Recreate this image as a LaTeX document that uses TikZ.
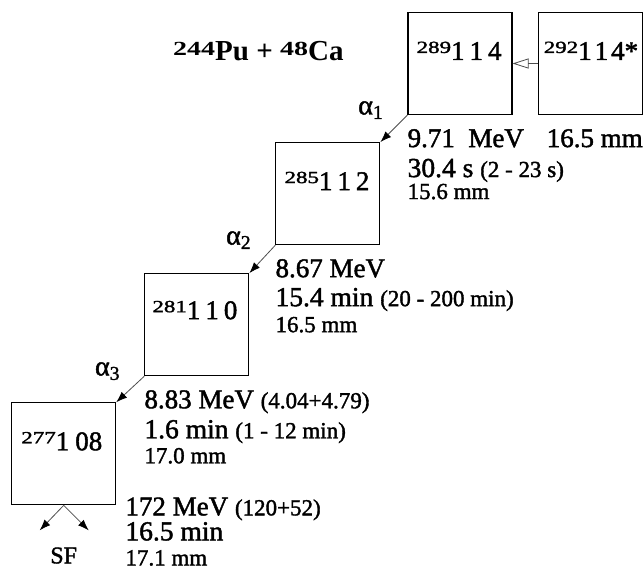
\documentclass[tikz,border=0pt]{standalone}
\usepackage{graphicx}
\usepackage{fontspec}
\setmainfont{Liberation Serif}
\newfontfamily\heavyfont{Liberation Serif}[FakeBold=1.6]
\usetikzlibrary{positioning,arrows.meta}
% mass number raised in front of the element number
\newcommand{\iso}[2]{{\fontsize{17}{17}\selectfont\raisebox{7pt}{\scalebox{1.35}[1]{#1}}}#2}
\newcommand{\titleiso}[1]{{\fontsize{20}{20}\selectfont\raisebox{5pt}{\scalebox{1.4}[1]{#1}}}}
\newcommand{\bracketfont}{\heavyfont\fontsize{23}{23}\selectfont}

\begin{document}
\begin{tikzpicture}[
  nucleus/.style = {draw, line width=1.1pt, minimum width=104pt,
    minimum height=102pt, inner sep=0pt},
  nuclide/.style = {anchor=base west, inner sep=0pt,
    font=\heavyfont\fontsize{27}{27}\selectfont},
  energy/.style = {anchor=base west, inner sep=0pt,
    font=\heavyfont\fontsize{27}{27}\selectfont},
  halflife/.style = {anchor=base west, inner sep=0pt,
    font=\heavyfont\fontsize{27.5}{27.5}\selectfont},
  track/.style = {anchor=base west, inner sep=0pt,
    font=\heavyfont\fontsize{23}{23}\selectfont},
  alphalabel/.style = {anchor=south east, inner sep=0pt,
    font=\heavyfont\fontsize{28}{28}\selectfont},
  decay/.style = {draw=gray!60!black, line width=0.8pt,
    -{Latex[length=11pt,width=8pt,color=black]}},
  feed/.style = {draw=gray!60!black, line width=0.8pt,
    -{Triangle[open,length=16pt,width=10pt]}}]

  \useasboundingbox (0pt,0pt) rectangle (644pt,-573pt);

  % decay chain boxes
  \node[nucleus] (b289) at (460pt,-63.5pt) {};
  \node[nucleus, right=25pt of b289] (b292) {};
  \node[nucleus, below left=27pt and 27pt of b289] (b285) {};
  \node[nucleus, below left=28pt and 26pt of b285] (b281) {};
  \node[nucleus, below left=26pt and 28pt of b281] (b277) {};

  \node[nuclide] (l289) at ([xshift=9pt,yshift=-48pt]b289.north west) {\iso{289}{1\kern5pt1\kern5pt4}};
  \node[nuclide] (l292) at ([xshift=6pt,yshift=-48pt]b292.north west) {\iso{292}{1\kern3pt1\kern3pt4*}};
  \node[nuclide] (l285) at ([xshift=9pt,yshift=-48pt]b285.north west) {\iso{285}{1\kern5pt1\kern5pt2}};
  \node[nuclide] (l281) at ([xshift=8pt,yshift=-46pt]b281.north west) {\iso{281}{1\kern5pt1\kern5pt0}};
  \node[nuclide] (l277) at ([xshift=10pt,yshift=-48pt]b277.north west) {\iso{277}{1\kern6pt08}};

  \node[anchor=base west, inner sep=0pt] (reaction) at (173pt,-60pt)
    {\bfseries\fontsize{29}{29}\selectfont\titleiso{244}Pu + \titleiso{48}Ca};

  % transitions
  \draw[feed] (b292.west) -- (b289.east);
  \draw[decay] (b289.south west) -- (b285.north east);
  \draw[decay] (b285.south west) -- (b281.north east);
  \draw[decay] (b281.south west) -- (b277.north east);
  \coordinate (sf1) at ([xshift=-24pt,yshift=-25pt]b277.south);
  \coordinate (sf2) at ([xshift=25pt,yshift=-25pt]b277.south);
  \draw[decay] (b277.south) -- (sf1);
  \draw[decay] (b277.south) -- (sf2);
  \node[anchor=base, inner sep=0pt, font=\heavyfont\fontsize{24}{24}\selectfont] (sf) at ([yshift=-58pt]b277.south) {SF};

  \node[alphalabel] (a1) at ([xshift=-24pt,yshift=-4pt]b289.south west) {α\textsubscript{1}};
  \node[alphalabel] (a2) at ([xshift=-24pt,yshift=-4pt]b285.south west) {α\textsubscript{2}};
  \node[alphalabel] (a3) at ([xshift=-24pt,yshift=-4pt]b281.south west) {α\textsubscript{3}};

  % measured values
  \node[energy] (r0) at ([xshift=9pt,yshift=-32pt]b292.south west) {16.5 mm};

  \node[energy] (e1) at ([yshift=-32pt]b289.south west) {9.71\ \ MeV};
  \node[halflife] (t1) at ([yshift=-30pt]e1.base west) {30.4 s {\bracketfont(2 - 23 s)}};
  \node[track] (r1) at ([yshift=-22pt]t1.base west) {15.6 mm};

  \node[energy] (e2) at ([yshift=-32pt]b285.south west) {8.67 MeV};
  \node[halflife] (t2) at ([yshift=-29pt]e2.base west) {15.4 min {\bracketfont(20 - 200 min)}};
  \node[track] (r2) at ([yshift=-26pt]t2.base west) {16.5 mm};

  \node[energy] (e3) at ([yshift=-32pt]b281.south west) {8.83 MeV {\bracketfont(4.04+4.79)}};
  \node[halflife] (t3) at ([yshift=-30pt]e3.base west) {1.6 min {\bracketfont(1 - 12 min)}};
  \node[track] (r3) at ([yshift=-25pt]t3.base west) {17.0 mm};

  \node[energy] (e4) at ([xshift=9pt,yshift=-10pt]b277.south east) {172 MeV {\bracketfont(120+52)}};
  \node[halflife] (t4) at ([yshift=-25pt]e4.base west) {16.5 min};
  \node[track] (r4) at ([yshift=-25pt]t4.base west) {17.1 mm};
\end{tikzpicture}
\end{document}
